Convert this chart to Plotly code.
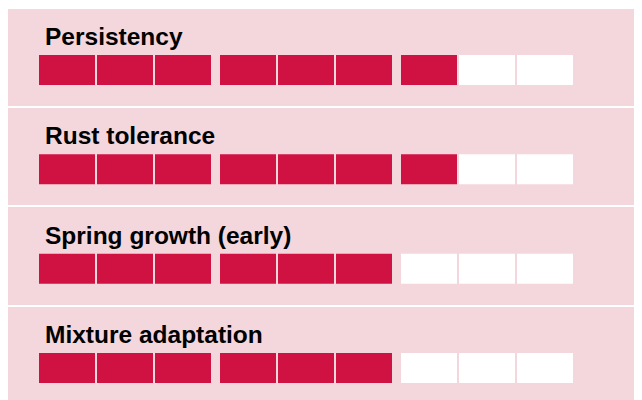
import plotly.graph_objects as go

# ---- data ----
traits = ["Persistency", "Rust tolerance", "Spring growth (early)", "Mixture adaptation"]
scores = [7, 7, 6, 6]
max_score = 9
group_size = 3

# ---- style ----
FILLED = "#D01242"
EMPTY = "#FFFFFF"
BG = "#F4D7DC"
PITCH = 58.0
CELL_W = 56 / PITCH
GROUP_GAP = 7 / PITCH
CELL_H = 0.302
CELL_OFF = 0.128
TITLE_OFF = -0.21

xs, ys, bases, colors = [], [], [], []
for r, (t, s) in enumerate(zip(traits, scores)):
    for i in range(max_score):
        g = i // group_size
        bases.append(i + g * GROUP_GAP)
        xs.append(CELL_W)
        ys.append(r + CELL_OFF)
        colors.append(FILLED if i < s else EMPTY)

fig = go.Figure(
    go.Bar(
        orientation="h",
        x=xs,
        y=ys,
        base=bases,
        width=CELL_H,
        marker=dict(color=colors, line=dict(width=0)),
        hoverinfo="skip",
    )
)

for r, t in enumerate(traits):
    fig.add_annotation(
        x=4 / PITCH, y=r + TITLE_OFF, xref="x", yref="y",
        text="<b>" + t + "</b>", showarrow=False,
        xanchor="left", yanchor="middle",
        font=dict(family="Liberation Sans, Arial, sans-serif", size=24.5, color="#000000"),
    )

W, H = 634, 392
fig.update_layout(
    width=W, height=H,
    margin=dict(l=0, r=0, t=1, b=0, pad=0),
    paper_bgcolor="white",
    plot_bgcolor=BG,
    barmode="overlay",
    showlegend=False,
    xaxis=dict(range=[-31 / PITCH, -31 / PITCH + W / PITCH], visible=False, fixedrange=True),
    yaxis=dict(
        range=[3.45, -0.4866],
        tickvals=[0.5, 1.5, 2.5],
        showticklabels=False,
        showgrid=True, gridcolor="white", gridwidth=2,
        zeroline=False, showline=False, ticks="", fixedrange=True,
    ),
)

fig.write_html("out.html", config={"displayModeBar": False})
